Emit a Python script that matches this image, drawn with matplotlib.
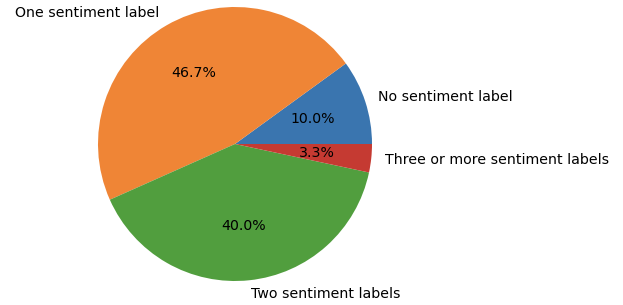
import matplotlib
matplotlib.use("Agg")
import matplotlib.pyplot as plt

# slice data
labels = ['No sentiment label', 'One sentiment label', 'Two sentiment labels', 'Three or more sentiment labels']
counts = [3, 14, 12, 1]
colors = ['#3a75af', '#ef8536', '#519e3e', '#c53a32']

fig = plt.figure(figsize=(6.23, 3.05), dpi=100)

# pie centre ~ (235,144) px, radius ~137 px
cx, cy, r = 235, 305 - 144, 137
ax = fig.add_axes([(cx - r) / 623, (cy - r) / 305, 2 * r / 623, 2 * r / 305])

ax.pie(counts, labels=labels, colors=colors, autopct='%1.1f%%',
       textprops={'fontsize': 10.2})
ax.set_xlim(-1, 1)
ax.set_ylim(-1, 1)
ax.set_aspect('auto')

fig.savefig('out.png', dpi=100)
plt.close(fig)
